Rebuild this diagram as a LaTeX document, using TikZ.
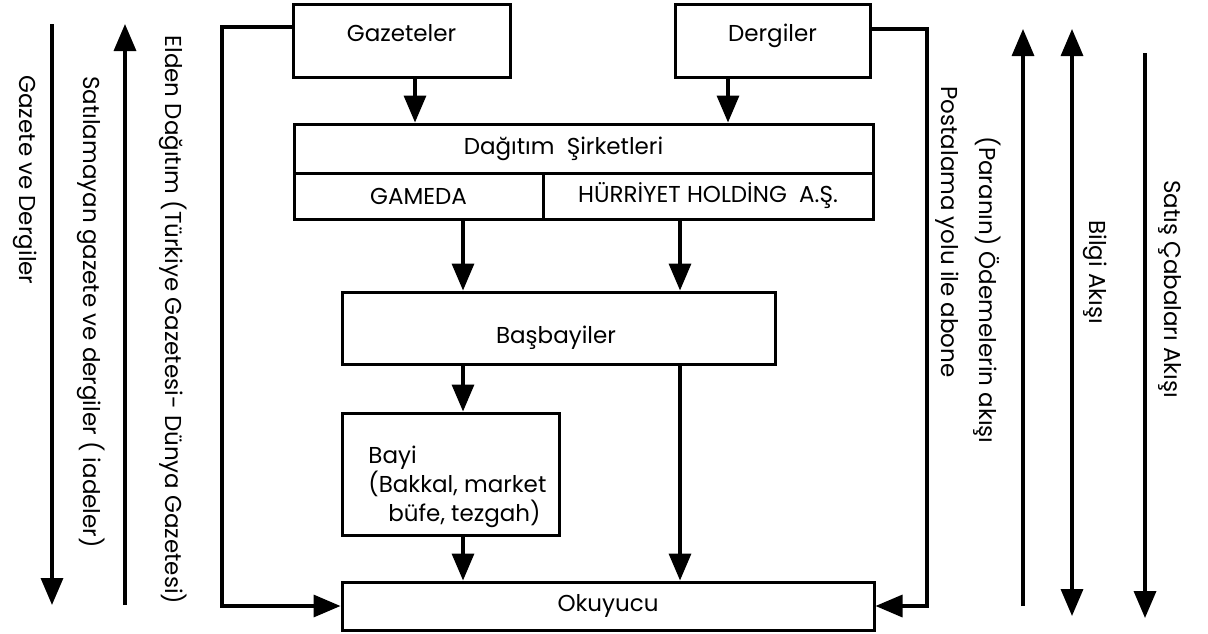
\documentclass[tikz,border=0pt]{standalone}
\usepackage{fontspec}
\setmainfont{Poppins}
\usetikzlibrary{arrows.meta, positioning}

\begin{document}
\begin{tikzpicture}[
    x=0.5pt, y=-0.5pt,
    every node/.style={font=\fontsize{11.5}{14.5}\selectfont},
    box/.style={rectangle, draw, line width=1.5pt, inner sep=0pt},
    flow/.style={line width=1.7pt, -{Triangle[length=13.5pt, width=11pt]}},
    twoway/.style={line width=1.7pt, {Triangle[length=13.5pt, width=11pt]}-{Triangle[length=13.5pt, width=11pt]}},
    vtext/.style={rotate=-90, anchor=center},
]
\useasboundingbox (0,0) rectangle (1208,633);

% Publishers
\node[box, minimum width=108.5pt, minimum height=36.5pt, text height=8pt, text depth=7pt]
    (gaz) at (401.5, 40.5) {Gazeteler};
\node[box, minimum width=97.5pt, minimum height=36.5pt, text height=8pt, text depth=7pt]
    (derg) at (772.5, 40.5) {Dergiler};

% Distribution companies
\node[box, minimum width=289.5pt, minimum height=24.5pt]
    (dag) at (583.5, 148.5) {Dağıtım\ \ Şirketleri\hspace*{20pt}};
\node[box, minimum width=124.5pt, minimum height=23pt]
    (gameda) at (418.5, 196) {GAMEDA};
\node[box, minimum width=165pt, minimum height=23pt]
    (hurr) at (708, 196) {HÜRRİYET HOLDİNG\ \ A.Ş.};

% Wholesalers, dealers, reader
\node[box, minimum width=216.5pt, minimum height=36pt] (bas) at (558.5, 328) {};
\node (basT) at (556, 338) {Başbayiler};
\node[box, minimum width=108.5pt, minimum height=61pt] (bayi) at (450.5, 474) {};
\node[anchor=west, align=left, inner sep=0pt] (bayiT) at (368, 487)
    {Bayi\\(Bakkal, market\\\hspace*{10pt}büfe, tezgah)};
\node[box, minimum width=266pt, minimum height=24pt] (oku) at (608, 606) {Okuyucu};

% Columns for the vertical connectors
\coordinate (colG) at (415, 0);
\coordinate (colD) at (728, 0);
\coordinate (colA) at (463, 0);
\coordinate (colB) at (680, 0);
\coordinate (eldenX) at (222, 0);
\coordinate (postaX) at (927, 0);

\draw[flow] (colG |- gaz.south) -- (colG |- dag.north);
\draw[flow] (colD |- derg.south) -- (colD |- dag.north);
\draw[flow] (colA |- gameda.south) -- (colA |- bas.north);
\draw[flow] (colB |- hurr.south) -- (colB |- bas.north);
\draw[flow] (colA |- bas.south) -- (colA |- bayi.north);
\draw[flow] (colA |- bayi.south) -- (colA |- oku.north);
\draw[flow] (colB |- bas.south) -- (colB |- oku.north);

% Direct delivery and subscription by post
\coordinate (gazOut) at ([yshift=6.75pt]gaz.west);
\coordinate (dergOut) at ([yshift=5.75pt]derg.east);
\draw[flow] (gazOut) -- (gazOut -| eldenX) -- (eldenX |- oku.west) -- (oku.west);
\draw[flow] (dergOut) -- (dergOut -| postaX) -- (postaX |- oku.east) -- (oku.east);
\node[vtext] (elden) at (173, 320) {Elden Dağıtım (Türkiye Gazetesi- Dünya Gazetesi)};
\node[vtext] (posta) at (947, 232) {Postalama yolu ile abone};

% Flows on the left
\coordinate (gdTop) at (52, 24);
\coordinate (gdBot) at (52, 605);
\draw[flow] (gdTop) -- (gdBot);
\node[vtext] (gd) at (25, 180) {Gazete ve Dergiler};
\coordinate (iaBot) at (125, 605);
\coordinate (iaTop) at (125, 24);
\draw[flow] (iaBot) -- (iaTop);
\node[vtext] (ia) at (91, 312) {Satılamayan gazete ve dergiler ( iadeler)};

% Flows on the right
\coordinate (odBot) at (1023, 606);
\coordinate (odTop) at (1023, 29);
\draw[flow] (odBot) -- (odTop);
\node[vtext] (od) at (987, 290) {(Paranın) Ödemelerin akışı};
\coordinate (bgTop) at (1072, 29);
\coordinate (bgBot) at (1072, 616);
\draw[twoway] (bgTop) -- (bgBot);
\node[vtext] (bg) at (1095, 272) {Bilgi Akışı};
\coordinate (scTop) at (1145, 53);
\coordinate (scBot) at (1145, 618);
\draw[flow] (scTop) -- (scBot);
\node[vtext] (sc) at (1170, 289) {Satış Çabaları Akışı};

\end{tikzpicture}
\end{document}
